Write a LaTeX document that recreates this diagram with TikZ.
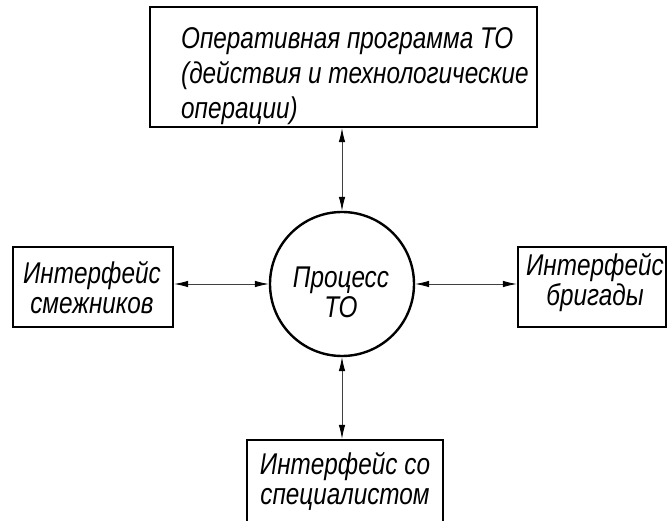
\documentclass[tikz,border=0pt]{standalone}
\usepackage{fontspec}
\setmainfont{Liberation Sans}[FakeStretch=0.81]
\usetikzlibrary{arrows.meta}
\begin{document}
\begin{tikzpicture}[x=1pt,y=1pt,
  frame/.style={draw, line width=2.4pt, inner sep=0pt},
  captext/.style={font=\fontsize{30}{30}\selectfont\itshape, align=center, inner sep=0pt},
  conn/.style={line width=0.8pt, draw=black!75, {Latex[length=14pt,width=6.5pt,black]}-{Latex[length=14pt,width=6.5pt,black]}}]
\useasboundingbox (0,0) rectangle (667,-521);

% frames
\node[frame, minimum width=387pt, minimum height=120pt] (prog) at (343.5,-67) {};
\node[frame, circle, minimum size=144pt] (proc) at (342,-284) {};
\node[frame, minimum width=160pt, minimum height=80pt] (adj) at (93,-287) {};
\node[frame, minimum width=148pt, minimum height=80pt] (crew) at (592,-287) {};
\node[frame, minimum width=196pt, minimum height=90pt] (spec) at (345,-485) {};

% texts
\node[captext, align=left, anchor=west, font=\fontsize{30}{35}\selectfont\itshape] (progtxt) at (181,-76)
  {Оперативная программа ТО\\(действия и технологические\\операции)};
\node[captext] (proctxt) at (341,-292) {Процесс\\ТО};
\node[captext] (adjtxt) at (92,-288) {Интерфейс\\смежников};
\node[captext] (crewtxt) at (595,-283) {Интерфейс\\бригады};
\node[captext] (spectxt) at (345,-481) {Интерфейс со\\специалистом};

% connectors
\draw[conn] (proc.north |- prog.south) -- (proc.north);
\draw[conn] (proc.south) -- (proc.south |- spec.north);
\draw[conn] (adj.east |- proc.west) -- (proc.west);
\draw[conn] (proc.east) -- (proc.east -| crew.west);
\end{tikzpicture}
\end{document}
